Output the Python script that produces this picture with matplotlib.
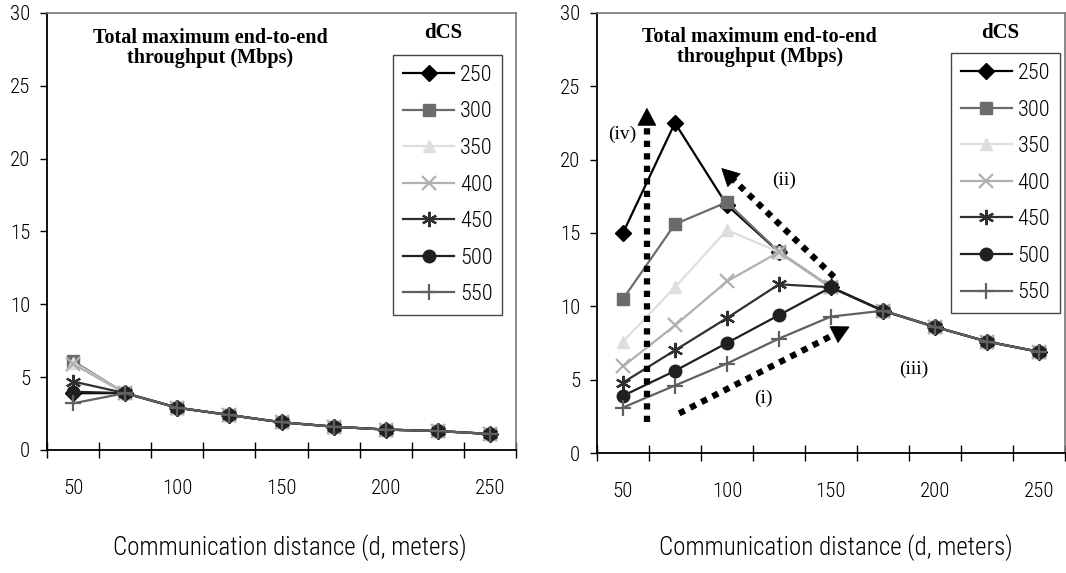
import matplotlib
matplotlib.use("Agg")
import matplotlib.pyplot as plt
from matplotlib.patches import Polygon
import numpy as np

# distances (categories) and dCS series
distances = [50, 75, 100, 125, 150, 175, 200, 225, 250]
dcs_labels = ["250", "300", "350", "400", "450", "500", "550"]

# left panel
left_250 = [3.9, 3.9, 2.9, 2.4, 1.9, 1.6, 1.4, 1.3, 1.1]
left_300 = [6.1, 3.9, 2.9, 2.4, 1.9, 1.6, 1.4, 1.3, 1.1]
left_350 = [6.0, 3.9, 2.9, 2.4, 1.9, 1.6, 1.4, 1.3, 1.1]
left_400 = [5.9, 3.9, 2.9, 2.4, 1.9, 1.6, 1.4, 1.3, 1.1]
left_450 = [4.7, 3.9, 2.9, 2.4, 1.9, 1.6, 1.4, 1.3, 1.1]
left_500 = [4.0, 3.9, 2.9, 2.4, 1.9, 1.6, 1.4, 1.3, 1.1]
left_550 = [3.2, 3.9, 2.9, 2.4, 1.9, 1.6, 1.4, 1.3, 1.1]

# right panel
right_250 = [15.0, 22.5, 16.9, 13.7, 11.3, 9.7, 8.6, 7.6, 6.9]
right_300 = [10.5, 15.6, 17.1, 13.7, 11.3, 9.7, 8.6, 7.6, 6.9]
right_350 = [7.6, 11.3, 15.2, 13.7, 11.3, 9.7, 8.6, 7.6, 6.9]
right_400 = [5.9, 8.7, 11.7, 13.7, 11.3, 9.7, 8.6, 7.6, 6.9]
right_450 = [4.8, 7.0, 9.2, 11.5, 11.3, 9.7, 8.6, 7.6, 6.9]
right_500 = [3.9, 5.6, 7.5, 9.4, 11.3, 9.7, 8.6, 7.6, 6.9]
right_550 = [3.1, 4.6, 6.1, 7.8, 9.3, 9.7, 8.6, 7.6, 6.9]

left_series = [left_250, left_300, left_350, left_400, left_450, left_500, left_550]
right_series = [right_250, right_300, right_350, right_400, right_450, right_500, right_550]

colors = ["#000000", "#6b6b6b", "#dedede", "#b0b0b0", "#303030", "#202020", "#606060"]
markers = ["D", "s", "^", "x", (6, 2, 0), "o", "+"]
msizes = [8, 8, 9, 10, 11, 9, 12]

narrow = ["Liberation Sans Narrow", "Roboto Condensed", "Liberation Sans", "DejaVu Sans"]
serif = ["Liberation Serif", "DejaVu Serif"]

fig = plt.figure(figsize=(10.66, 5.73), dpi=100)
ax1 = fig.add_axes([0.0441, 0.2147, 0.44, 0.7627])
ax2 = fig.add_axes([0.560, 0.2094, 0.439, 0.768])


def style_axes(ax):
    x = np.arange(len(distances))
    ax.set_xlim(-0.5, len(distances) - 0.5)
    ax.set_ylim(0, 30)
    ax.set_yticks([0, 5, 10, 15, 20, 25, 30])
    ax.set_yticklabels(["0", "5", "10", "15", "20", "25", "30"], family=narrow,
                       fontsize=15, fontweight="light")
    ax.tick_params(axis="y", direction="out", length=5, width=1, pad=7)
    # ticks between categories, labels on every other category
    ax.set_xticks(np.arange(-0.5, len(distances), 1.0))
    ax.set_xticklabels([])
    ax.tick_params(axis="x", which="major", direction="inout", length=12, width=1)
    ax.set_xticks(x[::2], minor=True)
    ax.set_xticklabels([str(d) for d in distances[::2]], minor=True, family=narrow,
                       fontsize=15, fontweight="light")
    ax.tick_params(axis="x", which="minor", length=0, pad=21)
    for s in ["left", "bottom"]:
        ax.spines[s].set_color("black")
        ax.spines[s].set_linewidth(1.3)
    for s in ["top", "right"]:
        ax.spines[s].set_color("#777777")
        ax.spines[s].set_linewidth(1.2)
    return x


def draw_series(ax, series):
    x = np.arange(len(distances))
    for vals, c, m, ms, lab in zip(series, colors, markers, msizes, dcs_labels):
        ax.plot(x, vals, color=c, marker=m, markersize=ms, lw=1.6,
                markeredgewidth=1.6 if m in ("x", "+") or isinstance(m, tuple) else 1,
                markeredgecolor=c, label=lab, clip_on=False)


def add_legend(ax, x0, y0):
    leg = ax.legend(loc="upper left", bbox_to_anchor=(x0, y0), frameon=True,
                    fancybox=False, edgecolor="#444444", framealpha=1,
                    prop={"family": narrow, "size": 16, "weight": "light"},
                    handlelength=2.3, handletextpad=0.25, labelspacing=0.7,
                    borderpad=0.45, borderaxespad=0)
    leg.get_frame().set_linewidth(1.0)


for ax, series in [(ax1, left_series), (ax2, right_series)]:
    style_axes(ax)
    draw_series(ax, series)

add_legend(ax1, 0.738, 0.904)
add_legend(ax2, 0.756, 0.909)

title = "Total maximum end-to-end\nthroughput (Mbps)"
ax1.text(0.348, 0.919, title, transform=ax1.transAxes, ha="center", va="center",
         family=serif, fontweight="bold", fontsize=14.5, linespacing=1.0)
ax2.text(0.348, 0.923, title, transform=ax2.transAxes, ha="center", va="center",
         family=serif, fontweight="bold", fontsize=14.5, linespacing=1.0)
ax1.text(0.844, 0.954, "dCS", transform=ax1.transAxes, ha="center", va="center",
         family=serif, fontweight="bold", fontsize=15)
ax2.text(0.861, 0.955, "dCS", transform=ax2.transAxes, ha="center", va="center",
         family=serif, fontweight="bold", fontsize=15)


# dotted arrows on the right panel
def dotted_arrow(ax, start, end, head_len=17, head_half=9):
    start = np.array(start, dtype=float)
    end = np.array(end, dtype=float)
    inv = ax.transData.inverted()
    p0 = ax.transData.transform(start)
    p1 = ax.transData.transform(end)
    d = p1 - p0
    u = d / np.hypot(*d)
    n = np.array([-u[1], u[0]])
    base = p1 - u * head_len
    base_data = inv.transform(base)
    ax.plot([start[0], base_data[0]], [start[1], base_data[1]], color="black",
            lw=4.5, linestyle=(0, (1, 1)), dash_capstyle="butt", zorder=5)
    tri = inv.transform(np.array([p1, base + n * head_half, base - n * head_half]))
    ax.add_patch(Polygon(tri, closed=True, facecolor="black", edgecolor="black",
                         lw=0.5, zorder=6))


dotted_arrow(ax2, (0.46, 2.1), (0.46, 23.5))
dotted_arrow(ax2, (4.06, 12.0), (1.9, 19.4))
dotted_arrow(ax2, (1.08, 2.7), (4.35, 8.6))

ax2.text(-0.02, 21.7, "(iv)", family=serif, fontsize=14, ha="center", va="center")
ax2.text(3.1, 18.6, "(ii)", family=serif, fontsize=14, ha="center", va="center")
ax2.text(2.7, 3.75, "(i)", family=serif, fontsize=14, ha="center", va="center")
ax2.text(5.6, 5.7, "(iii)", family=serif, fontsize=14, ha="center", va="center")

fig.text(290 / 1066, 1 - 548 / 573, "Communication distance (d, meters)",
         family=narrow, fontsize=18, fontweight="light", ha="center", va="center")
fig.text(836 / 1066, 1 - 548 / 573, "Communication distance (d, meters)",
         family=narrow, fontsize=18, fontweight="light", ha="center", va="center")

fig.savefig("out.png", dpi=100)
